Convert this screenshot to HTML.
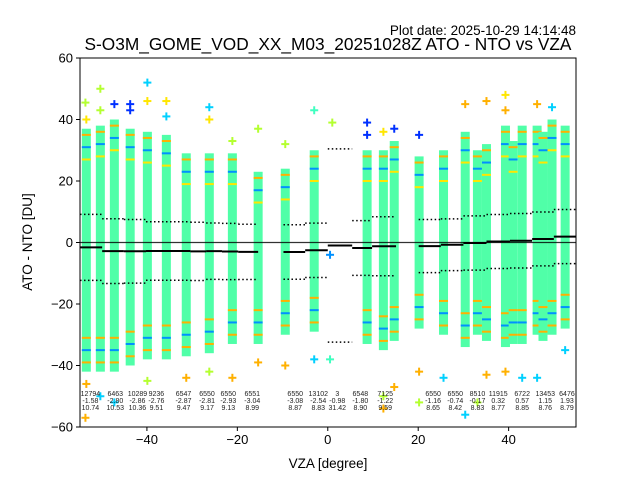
<!DOCTYPE html>
<html><head><meta charset="utf-8">
<style>
body{margin:0;background:#fff;}
svg{display:block;font-family:"Liberation Sans","DejaVu Sans",sans-serif;}
</style></head>
<body>
<svg id="chart" width="640" height="480" viewBox="0 0 640 480" xmlns="http://www.w3.org/2000/svg">
<rect x="0" y="0" width="640" height="480" fill="#fff"/>
<text x="576" y="35" text-anchor="end" font-size="13.5">Plot date: 2025-10-29 14:14:48</text>
<text x="328" y="50" text-anchor="middle" font-size="17.3">S-O3M_GOME_VOD_XX_M03_20251028Z ATO - NTO vs VZA</text>
<g id="plot"></g>
<text x="328" y="468" text-anchor="middle" font-size="13.5">VZA [degree]</text>
<text x="32" y="242" text-anchor="middle" font-size="13.5" transform="rotate(-90 32 242)">ATO - NTO [DU]</text>
</svg>
<script>
// ---- data ----
const colVza = [-53.4,-50.3,-47.2,-43.7,-39.9,-35.7,-31.3,-26.2,-21.1,-15.4,-9.4,-3.0,8.7,12.3,14.7,20.2,25.6,30.4,33.1,35.1,39.3,41.0,43.0,46.3,47.6,49.6,52.5];
const colTop = [37,38,40,37,36,35,29,29,29,23,24,30,30,30,33,28,30,36,30,32,38,33,38,38,36,40,38];
const colBottom = [-42,-42,-42,-40,-38,-38,-37,-36,-33,-33,-30,-29,-33,-35,-32,-28,-30,-34,-30,-32,-34,-33,-33,-30,-32,-30,-28];
const binStart = [-54.8,-49.9,-45.1,-40.2,-30.4,-26.9,-23.4,-19.8,-9.8,-5.0,0.0,5.4,9.8,20.1,25.0,30.0,35.1,40.3,45.2,50.0];
const binEnd   = [-49.9,-45.1,-40.2,-30.4,-26.9,-23.4,-19.8,-15.4,-5.0,0.0,5.4,9.8,15.1,25.0,30.0,35.1,40.3,45.2,50.0,55.0];
const binCount = ["12794","6463","10289","9236","6547","6550","6550","6551","6550","13102","3","6548","7125","6550","6550","8510","11915","6722","13453","6476"];
const binMean = [-1.58,-2.80,-2.86,-2.76,-2.87,-2.81,-2.93,-3.04,-3.08,-2.54,-0.98,-1.80,-1.22,-1.16,-0.74,-0.17,0.32,0.57,1.15,1.93];
const binStd  = [10.74,10.53,10.36,9.51,9.47,9.17,9.13,8.99,8.87,8.83,31.42,8.90,9.59,8.65,8.42,8.83,8.77,8.85,8.76,8.79];
const labelVza = [-52.5,-47.0,-42.1,-37.9,-31.9,-26.7,-22.0,-16.7,-7.2,-2.1,2.1,7.2,12.7,23.3,28.2,33.1,37.7,43.0,48.1,52.9];
const outVza = [-53.6,-53.4,-50.3,-50.3,-47.2,-43.7,-43.7,-39.9,-39.9,-35.7,-35.7,-26.2,-26.2,-21.1,-15.4,-9.4,-3.0,1.0,0.5,0.5,8.7,8.7,14.7,12.3,20.2,30.4,35.1,39.3,39.3,46.3,49.6,-53.6,-53.4,-50.3,-47.2,-39.9,-31.3,-26.2,-21.1,-15.4,-9.4,-3.0,12.3,12.3,14.7,20.2,20.2,25.6,30.4,33.1,35.1,39.3,43.0,46.3,52.5];
const outVal = [45.5,40,50,43,45,45,43,52,46,46,41,44,40,33,37,32,43,39,-4,-38,39,35,37,36,35,45,46,48,43,45,44,-57,-46,-50,-52,-45,-44,-42,-44,-39,-40,-38,-54,-50,-47,-52,-42,-44,-56,-52,-43,-42,-44,-44,-35];
const outCol = [2,1,2,2,4,4,4,3,1,1,3,3,1,2,2,2,6,2,5,6,4,4,4,1,4,0,0,1,0,0,3,0,0,3,3,2,0,2,0,0,0,3,0,2,0,2,0,3,3,2,0,0,3,3,3];
const xTicks = [-40,-20,0,20,40];
const yTicks = [-60,-40,-20,0,20,40,60];

// ---- scales ----
const L=80,R=576,T=58,B=427;
const xMin=-54.8,xMax=54.9,yMin=-60,yMax=60;
const X=v=>L+(v-xMin)/(xMax-xMin)*(R-L);
const Y=v=>B-(v-yMin)/(yMax-yMin)*(B-T);
const palette=["#ffb000","#ffe600","#b4ff30","#00d0ff","#0030ff","#0090ff","#40ffc0"];
const NS="http://www.w3.org/2000/svg";
const plot=document.getElementById('plot');
function mk(tag,attrs,parent){const e=document.createElementNS(NS,tag);for(const k in attrs)e.setAttribute(k,attrs[k]);(parent||plot).appendChild(e);return e;}
function cross(x,y,c,name){
  const g=mk('g',{});
  
  
  mk('line',{x1:x-4,y1:y,x2:x+4,y2:y,stroke:c,'stroke-width':2},g);
  mk('line',{x1:x,y1:y-4,x2:x,y2:y+4,stroke:c,'stroke-width':2},g);
}
const defs=mk('defs',{});
const cp=mk('clipPath',{id:'clip'},defs);
mk('rect',{x:L,y:T,width:R-L,height:B-T},cp);
const inner=mk('g',{'clip-path':'url(#clip)'});

// columns
colVza.forEach((v,i)=>{
  const x=X(v);
  const r=mk('rect',{x:x-4.5,y:Y(colTop[i]),width:9,height:Y(colBottom[i])-Y(colTop[i]),fill:'#50ffa8'},inner);
  
  
  [[colTop[i]-2,0],[colTop[i]-6,5],[colTop[i]-10,1],[colBottom[i]+3,0],[colBottom[i]+7,5],[colBottom[i]+11,0]].forEach(p=>{
    const m=mk('rect',{x:x-4.5,y:Y(p[0])-1,width:9,height:2,fill:palette[p[1]]},inner);
    
    
  });
});
// outliers
outVza.forEach((v,i)=>{ cross(X(v),Y(outVal[i]),palette[outCol[i]],'outlier-point'); });
// zero line
const z=mk('line',{x1:L,x2:R,y1:Y(0),y2:Y(0),stroke:'#000','stroke-width':1.2,opacity:0.8},inner);


// bin stats lines
binStart.forEach((s,i)=>{
  const x1=X(s),x2=X(binEnd[i]),m=binMean[i],sd=binStd[i];
  const ml=mk('line',{x1:x1,x2:x2,y1:Y(m),y2:Y(m),stroke:'#000','stroke-width':2},inner);
  
  
  [m+sd,m-sd].forEach(v=>{
    const dl=mk('line',{x1:x1,x2:x2,y1:Y(v),y2:Y(v),stroke:'#000','stroke-width':1.5,'stroke-dasharray':'1.5,2.5'},inner);
    
    
  });
  const lx=X(labelVza[i]);
  [binCount[i],binMean[i].toFixed(2),binStd[i].toFixed(2)].forEach((t,k)=>{
    const tx=mk('text',{x:lx,y:396+k*7,'text-anchor':'middle','font-size':7,fill:'#222'});
    tx.textContent=t;
    
    
  });
});
// frame
const fr=mk('rect',{x:L,y:T,width:R-L,height:B-T,fill:'none',stroke:'#000','stroke-width':1});


xTicks.forEach(t=>{
  const x=X(t);
  mk('line',{x1:x,x2:x,y1:B,y2:B+4,stroke:'#000'});
  const tx=mk('text',{x:x,y:B+17,'text-anchor':'middle','font-size':13});
  tx.textContent=(t<0?'\u2212':'')+Math.abs(t);
  
  
});
yTicks.forEach(t=>{
  const y=Y(t);
  mk('line',{x1:L-4,x2:L,y1:y,y2:y,stroke:'#000'});
  const tx=mk('text',{x:L-7,y:y+4.5,'text-anchor':'end','font-size':13});
  tx.textContent=(t<0?'\u2212':'')+Math.abs(t);
  
  
});
</script>
</body></html>
